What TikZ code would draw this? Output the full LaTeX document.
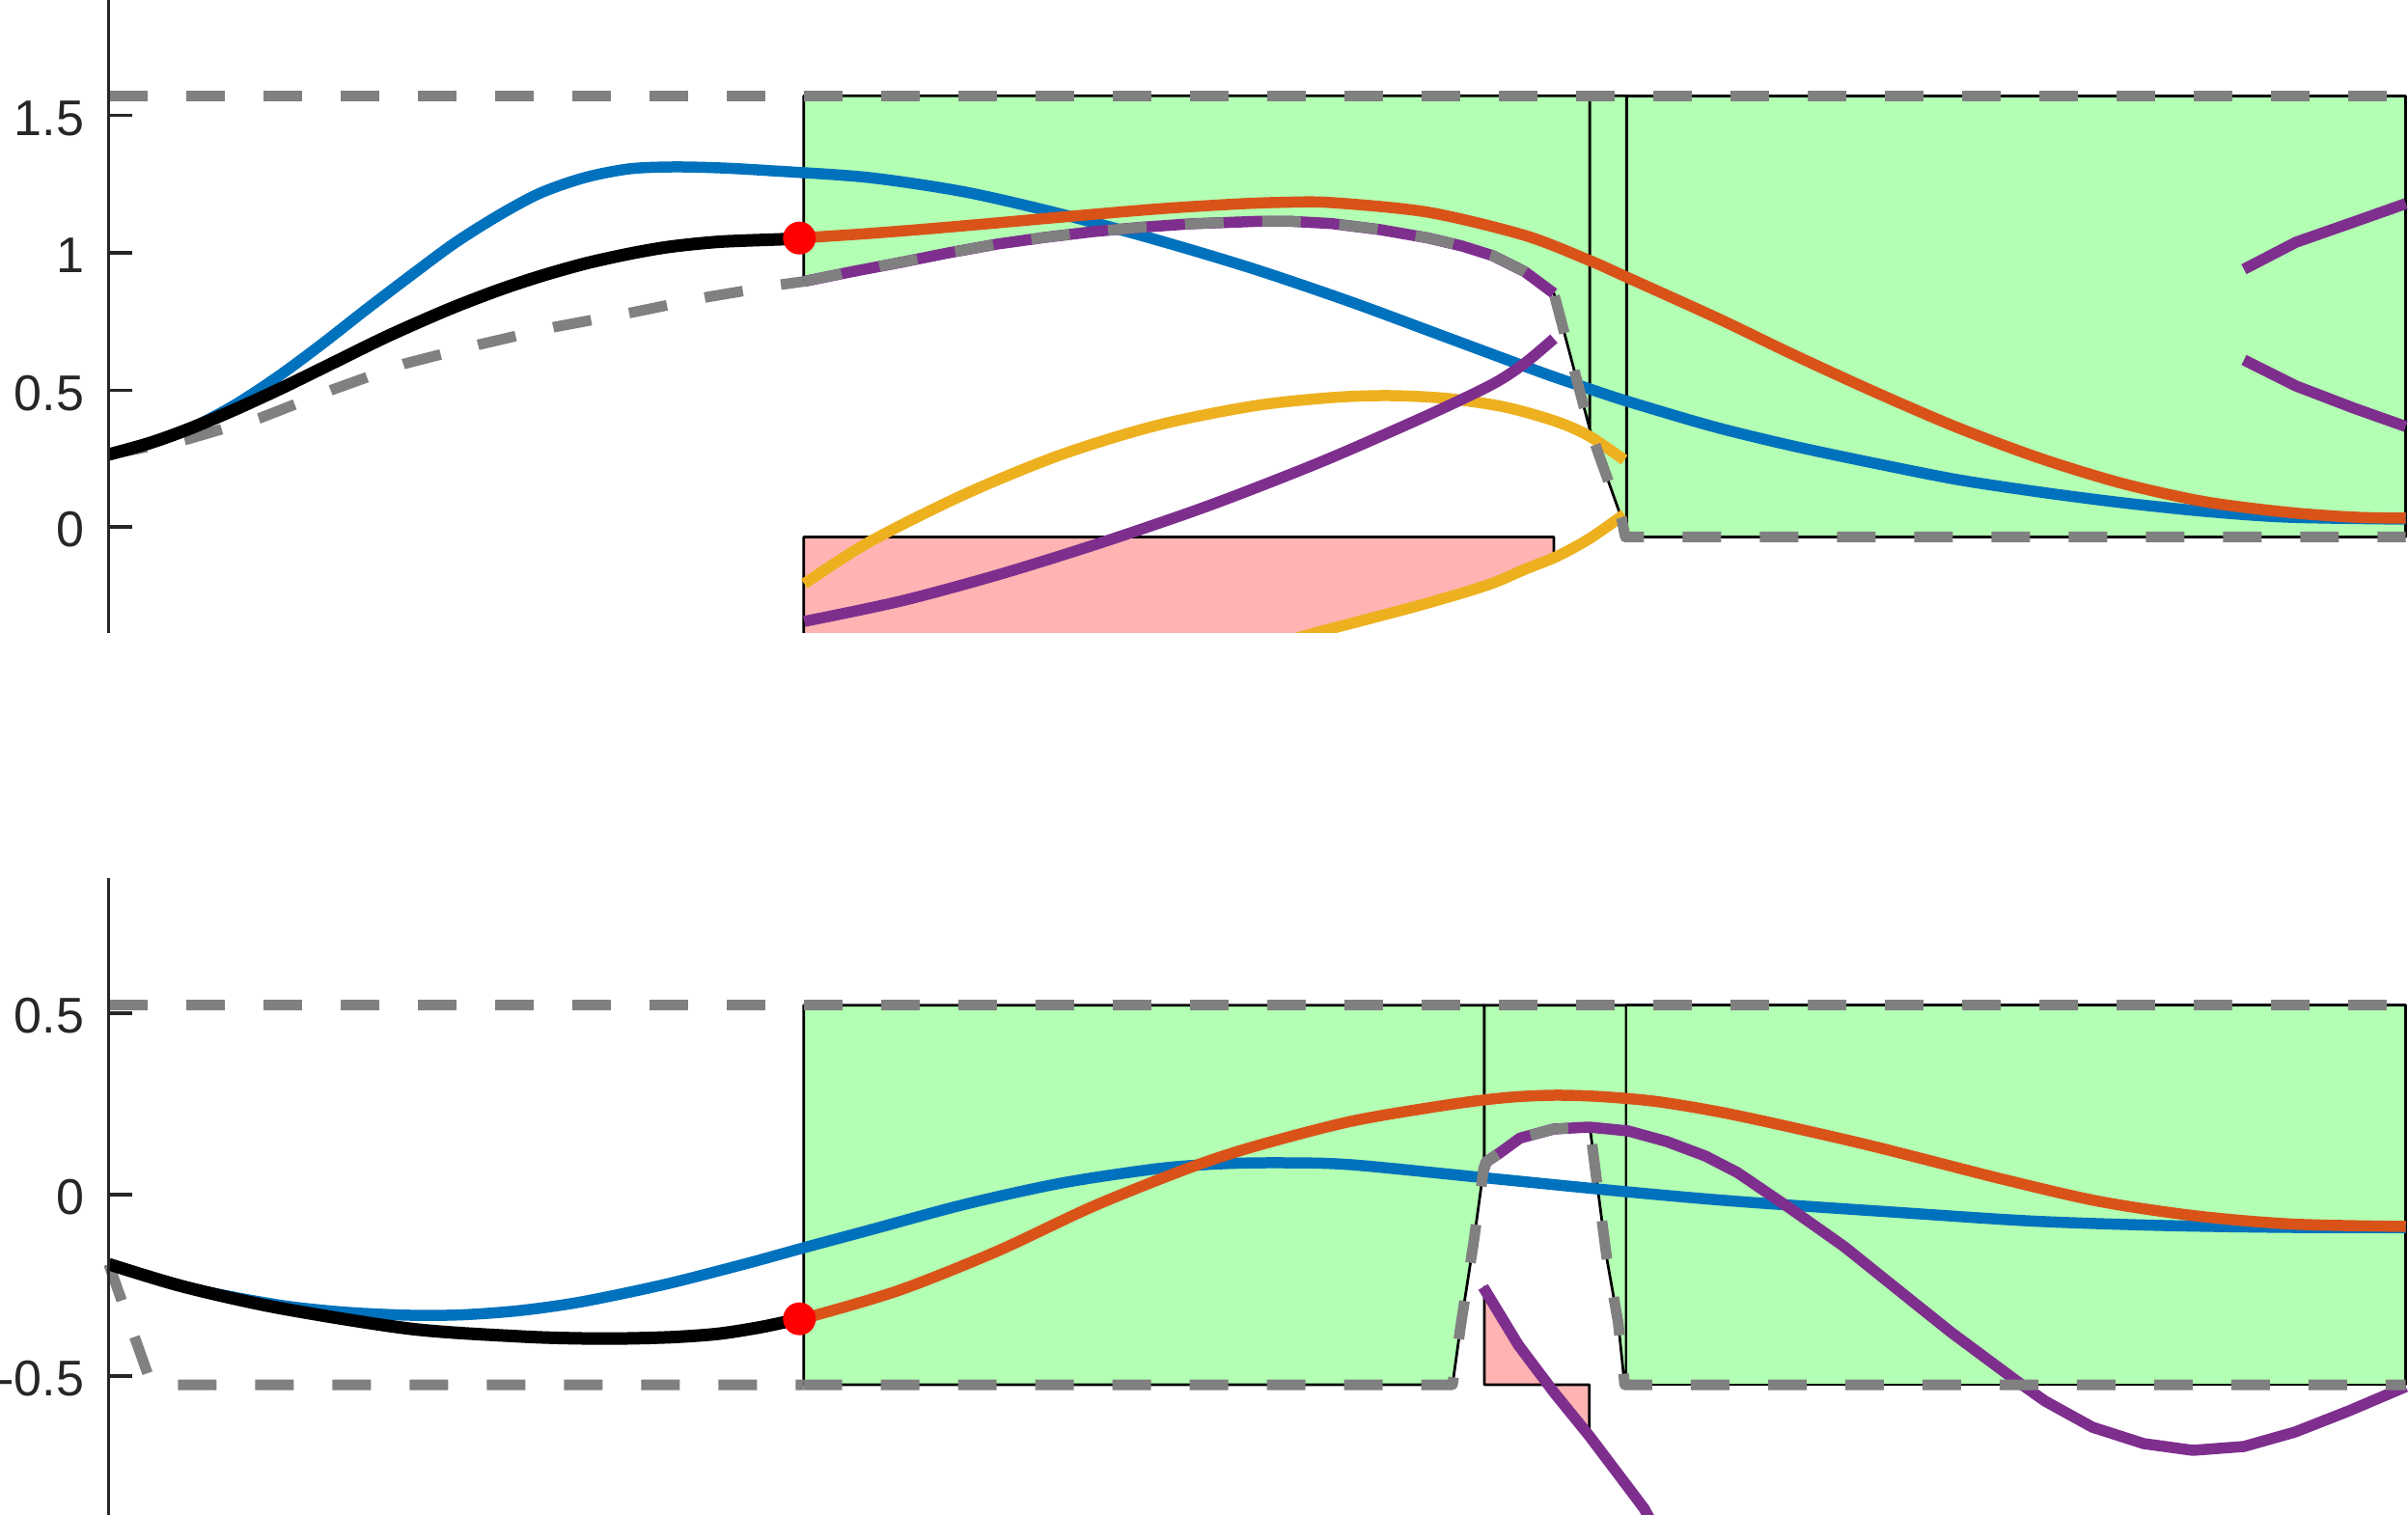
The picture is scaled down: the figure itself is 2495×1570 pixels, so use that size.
\documentclass[tikz,border=0pt]{standalone}
\usepackage{fontspec}
\setmainfont{Liberation Sans}
\definecolor{mblue}{HTML}{0072BD}
\definecolor{morange}{HTML}{D95319}
\definecolor{myellow}{HTML}{EDB120}
\definecolor{mpurple}{HTML}{7E2F8E}
\definecolor{mgray}{HTML}{808080}
\definecolor{gfill}{HTML}{B3FFB3}
\definecolor{pfill}{HTML}{FFB3B3}
\definecolor{axc}{HTML}{262626}
\tikzset{
  traj/.style={line width=2.3pt},
  blk/.style={line width=2.6pt, black},
  bnd/.style={draw=mgray, line width=2.2pt, dash pattern=on 8pt off 8pt},
  gpatch/.style={fill=gfill, draw=black, line width=0.55pt},
  ppatch/.style={fill=pfill, draw=black, line width=0.55pt},
  axisline/.style={draw=axc, line width=0.65pt},
  lbl/.style={anchor=east, inner sep=0pt, text=axc, font=\fontsize{10.4}{12}\selectfont},
  reddot/.style={circle, fill=red, inner sep=0pt, minimum size=6.8pt}
}
\begin{document}
\begin{tikzpicture}[x=0.2pt,y=-0.2pt,line join=round]
\useasboundingbox (0,0) rectangle (2495,1570);

%================ TOP AXES ================
\begin{scope}
\clip (100,0) rectangle (2495,656);
% green patches
\filldraw[gpatch] (832.7,99.3) -- (1647.3,99.3) -- (1647.3,445) -- (1610,304) -- (1580,281.7) -- (1546.7,265) -- (1515,255) -- (1480,246.7) -- (1430,238) -- (1380,231.7) -- (1340,229.5) -- (1300,229.5) -- (1233,232) -- (1183,235.5) -- (1133,240) -- (1083,246) -- (1033,253) -- (983,262) -- (933,272) -- (883,281.5) -- (832.7,291.7) -- cycle;
\filldraw[gpatch] (1647.3,99.3) -- (1685.3,99.3) -- (1685.3,556.5) -- (1683.5,556.5) -- (1680,536.7) -- (1647.3,445) -- cycle;
\filldraw[gpatch] (1685.3,99.3) rectangle (2492.7,556.5);
% pink patch
\filldraw[ppatch] (832.7,700) -- (832.7,556.5) -- (1610,556.5) -- (1610,576.7) -- (1580,590) -- (1542,606) -- (1472,627) -- (1366,655) -- (1300,680) -- (1300,700) -- cycle;
% trajectories
\draw[traj, mblue] plot[smooth] coordinates {(112.7,471) (155,459) (195,445) (241,421) (287,391) (333,357) (379,321) (425,286) (471,252) (517,223) (560,200) (606,184) (652,175) (697,173) (746,174) (800,177) (900,184) (1000,199) (1100,222) (1200,249) (1300,279) (1400,313) (1500,350) (1600,387) (1647,403) (1685,415.5) (1775,442) (1857,462) (1942,480) (2028,497) (2114,510) (2199,521) (2285,530) (2371,536) (2492.7,538)};
\draw[traj, morange] plot[smooth] coordinates {(828.3,246.7) (900,242) (967,236.7) (1033,231) (1100,225) (1200,216.5) (1280,211.5) (1330,209.7) (1380,210) (1480,220) (1580,244) (1647,270) (1685,287) (1780,330) (1857,367) (1942,406) (2028,443) (2114,475) (2199,501) (2285,520) (2371,531) (2440,536) (2492.7,537)};
\draw[traj, myellow] plot[smooth] coordinates {(833.3,605) (900,562) (1000,512) (1100,471) (1200,440.5) (1300,420.5) (1380,412) (1440,410) (1500,413) (1560,422) (1613,437) (1646.7,452) (1683,476.7)};
\draw[traj, myellow] plot[smooth] coordinates {(1683,533) (1646.7,558.3) (1613,576.7) (1580,590) (1542,606) (1472,627) (1366,655) (1320,668)};
\draw[traj, mpurple] (832.7,291.7) -- (883,281.5) -- (933,272) -- (983,262) -- (1033,253) -- (1083,246) -- (1133,240) -- (1183,235.5) -- (1233,232) -- (1300,229.5) -- (1340,229.5) -- (1380,231.7) -- (1430,238) -- (1480,246.7) -- (1515,255) -- (1546.7,265) -- (1580,281.7) -- (1610,304);
\draw[traj, mpurple] plot[smooth] coordinates {(1610,351) (1580,376.3) (1546.7,398) (1480,430) (1380,474) (1300,506) (1233,531) (1133,565) (1033,596) (933,623) (833.3,644)};
\draw[traj, mpurple] (2325,279) -- (2379,251) -- (2439,230) -- (2492.7,211);
\draw[traj, mpurple] (2325,373) -- (2379,400) -- (2439,423) -- (2492.7,442);
% bounds
\draw[bnd] (112.7,99.3) -- (832.7,99.3);
\draw[bnd] (832.7,99.3) -- (2492.7,99.3);
\draw[bnd] (112.7,471) -- (195,455) -- (270,433) -- (344,404) -- (419,377) -- (497,357) -- (574,339) -- (654,324) -- (732,308) -- (809,295) -- (832.7,291.7);
\draw[bnd] (832.7,291.7) -- (883,281.5) -- (933,272) -- (983,262) -- (1033,253) -- (1083,246) -- (1133,240) -- (1183,235.5) -- (1233,232) -- (1300,229.5) -- (1340,229.5) -- (1380,231.7) -- (1430,238) -- (1480,246.7) -- (1515,255) -- (1546.7,265) -- (1580,281.7) -- (1610,304) -- (1647.3,445) -- (1680,536.7) -- (1684,556.5) -- (2492.7,556.5);
% measured trajectory
\draw[blk] plot[smooth] coordinates {(112.7,471) (155,459.2) (195,444.8) (241,425.5) (293,401.6) (344,376.6) (402,348.2) (465,320.5) (517,300.5) (562,285.6) (608,272.7) (654,262.6) (695,255.6) (746,250.5) (809,248) (828.3,247)};
\end{scope}
\node[reddot] (dottop) at (828.3,246.7) {};
% axis
\draw[axisline] (112.7,0) -- (112.7,656);
\foreach \yy in {119.6,262,404.2,546} \draw[axisline] (112.7,\yy) -- (137,\yy);
\node[lbl] (ta) at (88,122.6) {1.5};
\node[lbl] (tb) at (88,265) {1};
\node[lbl] (tc) at (88,407.2) {0.5};
\node[lbl] (td) at (88,549) {0};

%================ BOTTOM AXES ================
\begin{scope}
\clip (100,910) rectangle (2495,1570);
\filldraw[gpatch] (832.7,1041.7) -- (1538,1041.7) -- (1538,1206) -- (1537,1213) -- (1526.7,1288.6) -- (1513.3,1375) -- (1505,1435) -- (832.7,1435) -- cycle;
\filldraw[gpatch] (1538,1041.7) -- (1685,1041.7) -- (1685,1435) -- (1683.3,1435) -- (1676.7,1371) -- (1665,1305) -- (1655,1228.4) -- (1648.3,1175.7) -- (1646.7,1168) -- (1610,1170) -- (1575,1179.4) -- (1553.3,1195.2) -- (1540,1204) -- (1538,1206) -- cycle;
\filldraw[gpatch] (1685,1041.7) rectangle (2492.7,1435);
\filldraw[ppatch] (1538,1333.7) -- (1538,1435) -- (1646.7,1435) -- (1646.7,1488) -- (1610,1442.8) -- (1573.3,1394) -- cycle;
% trajectories
\draw[traj, mblue] plot[smooth] coordinates {(112.7,1310) (189,1333) (241,1344) (300,1354) (360,1360) (425,1363) (480,1362.5) (540,1358) (603,1349) (689,1331) (775,1309) (833,1293) (900,1275) (1000,1248) (1100,1226) (1200,1211) (1266.7,1206) (1330,1205) (1400,1207) (1533,1220) (1685,1235) (1800,1245) (1975,1257) (2108,1265.5) (2242,1270) (2375,1272) (2492.7,1272)};
\draw[traj, morange] plot[smooth] coordinates {(828.3,1366.7) (845,1363) (933,1336.7) (1033,1296.7) (1133,1250) (1233,1210) (1300,1188) (1400,1162) (1500,1145) (1560,1137.5) (1610,1135) (1660,1136.5) (1720,1142) (1800,1156) (1933,1186) (2075,1222) (2175,1245) (2275,1260) (2375,1268.5) (2492.7,1271)};
\draw[traj, mpurple] (1537,1213) -- (1540,1204) -- (1553.3,1195.2) -- (1575,1179.4) -- (1610,1170) -- (1646.7,1168) -- (1687,1172) -- (1727,1183) -- (1767,1198) -- (1800,1215) -- (1853,1251) -- (1911,1292) -- (1977,1345) -- (2022,1381) -- (2088,1430) -- (2119,1452) -- (2168,1479) -- (2221,1496) -- (2272,1503) -- (2325,1499) -- (2378,1484) -- (2434,1462) -- (2492.7,1437);
\draw[traj, mpurple] (1536.7,1333.7) -- (1573.3,1394) -- (1610,1442.8) -- (1646.7,1488) -- (1703.3,1563) -- (1710,1575);
% bounds
\draw[bnd] (112.7,1041.7) -- (832.7,1041.7);
\draw[bnd] (832.7,1041.7) -- (2492.7,1041.7);
\draw[bnd] (112.7,1310) -- (157,1435) -- (832.7,1435);
\draw[bnd] (832.7,1435) -- (1505,1435) -- (1513.3,1375) -- (1526.7,1288.6) -- (1537,1213) -- (1540,1204) -- (1553.3,1195.2) -- (1575,1179.4) -- (1610,1170) -- (1646.7,1168) -- (1648.3,1175.7) -- (1655,1228.4) -- (1665,1305) -- (1676.7,1371) -- (1683.3,1435) -- (2492.7,1435);
% measured trajectory
\draw[blk] plot[smooth] coordinates {(112.7,1310) (189,1333) (287,1355) (425,1377) (540,1385) (603,1387) (650,1387) (700,1385.5) (746,1382) (790,1375) (828.3,1366.7)};
\end{scope}
\node[reddot] (dotbot) at (828.3,1366.7) {};
% axis
\draw[axisline] (112.7,910) -- (112.7,1570);
\foreach \yy in {1050,1238,1426} \draw[axisline] (112.7,\yy) -- (137,\yy);
\node[lbl] (ba) at (88,1053) {0.5};
\node[lbl] (bb) at (88,1241) {0};
\node[lbl] (bc) at (88,1429) {-0.5};
\end{tikzpicture}
\end{document}
